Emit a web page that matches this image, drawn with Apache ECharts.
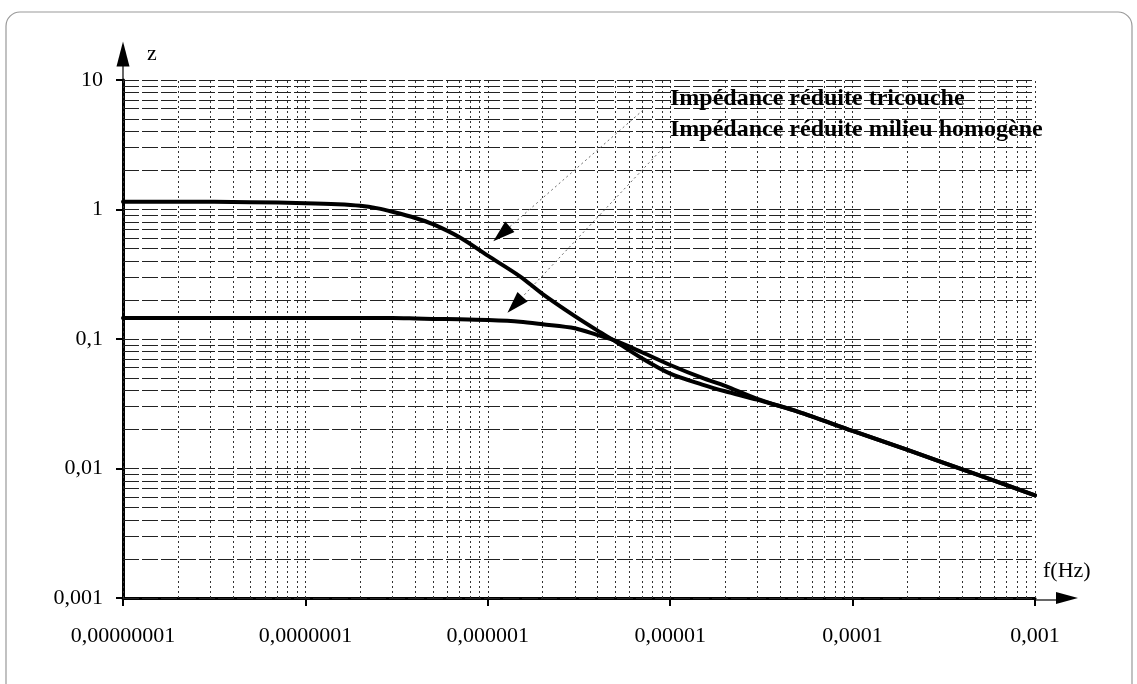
<!DOCTYPE html>
<html>
<head>
<meta charset="utf-8">
<script src="https://cdn.jsdelivr.net/npm/echarts@6/dist/echarts.min.js"></script>
<style>
  html, body { margin: 0; padding: 0; background: #fff; }
  #chart { width: 1137px; height: 684px; }
</style>
</head>
<body>
<div id="chart"></div>
<script>
// Frequencies (Hz) at which both impedance curves are sampled
const frequencies = [1e-8, 2e-8, 5e-8, 1e-7, 1.5e-7, 2e-7, 2.5e-7, 3e-7, 4e-7, 5e-7, 7e-7,
  1e-6, 1.5e-6, 2e-6, 3e-6, 4e-6, 5e-6, 7e-6, 1e-5, 1.5e-5, 2e-5, 3e-5, 5e-5, 1e-4, 2e-4, 5e-4, 1e-3];

// Reduced impedance, three-layer ground
const zTricouche = [1.15, 1.15, 1.14, 1.12, 1.10, 1.07, 1.02, 0.96, 0.86, 0.77, 0.61,
  0.44, 0.305, 0.222, 0.150, 0.116, 0.096, 0.071, 0.054, 0.0445, 0.0395, 0.034, 0.0275, 0.0195, 0.0139, 0.0088, 0.0062];

// Reduced impedance, homogeneous ground
const zHomogene = [0.145, 0.145, 0.145, 0.145, 0.145, 0.145, 0.145, 0.145, 0.144, 0.143, 0.142,
  0.140, 0.136, 0.130, 0.121, 0.107, 0.097, 0.079, 0.063, 0.050, 0.0435, 0.0345, 0.0275, 0.0195, 0.0139, 0.0088, 0.0062];

const xTickValues = [1e-8, 1e-7, 1e-6, 1e-5, 1e-4, 1e-3];
const xTickLabels = ['0,00000001', '0,0000001', '0,000001', '0,00001', '0,0001', '0,001'];
const yTickValues = [0.001, 0.01, 0.1, 1, 10];
const yTickLabels = ['0,001', '0,01', '0,1', '1', '10'];

const seriesNames = ['Impédance réduite tricouche', 'Impédance réduite milieu homogène'];
const axisNames = ['f(Hz)', 'z'];

// Multiples drawn as grid lines inside every decade
const gridMultiples = [1, 2, 3, 4, 5, 6, 7, 8, 9];

// Leader lines from the captions to the curves: [start, arrow] as (f, z)
const leaderTricouche = [[7.1e-6, 5.86], [1.19e-6, 0.647]];
const leaderHomogene = [[9.14e-6, 2.99], [1.41e-6, 0.184]];

const FONT = '"Liberation Serif", "Times New Roman", serif';

function labelFor(values, labels) {
  return function (v) {
    const i = values.findIndex(t => Math.abs(Math.log10(t) - Math.log10(v)) < 1e-6);
    return i >= 0 ? labels[i] : '';
  };
}

function gridValues(decades) {
  const out = [];
  for (let d = 0; d < decades.length - 1; d++) {
    for (const k of gridMultiples) out.push(decades[d] * k);
  }
  out.push(decades[decades.length - 1]);
  return out;
}

const xMin = xTickValues[0], xMax = xTickValues[xTickValues.length - 1];
const yMin = yTickValues[0], yMax = yTickValues[yTickValues.length - 1];

const toPairs = ys => frequencies.map((f, i) => [f, ys[i]]);

const chart = echarts.init(document.getElementById('chart'));

const curveStyle = { color: '#000', width: 4, cap: 'round', join: 'round' };

const option = {
  animation: false,
  backgroundColor: '#fff',
  grid: { left: 123, right: 102, top: 80, bottom: 86 },
  xAxis: {
    type: 'log', logBase: 10, min: xMin, max: xMax,
    axisLine: {
      show: true, onZero: false,
      lineStyle: { color: '#000', width: 3 },
      symbol: ['none', 'triangle'], symbolSize: [12, 22], symbolOffset: [0, 32]
    },
    axisTick: { show: true, length: 8, lineStyle: { color: '#000', width: 2 } },
    axisLabel: { formatter: labelFor(xTickValues, xTickLabels), margin: 27, color: '#000', fontFamily: FONT, fontSize: 22 },
    splitLine: { show: false }
  },
  yAxis: {
    type: 'log', logBase: 10, min: yMin, max: yMax,
    axisLine: {
      show: true, onZero: false,
      lineStyle: { color: '#000', width: 3 },
      symbol: ['none', 'triangle'], symbolSize: [13, 25], symbolOffset: [0, 26]
    },
    axisTick: { show: true, length: 7, lineStyle: { color: '#000', width: 2 } },
    axisLabel: { formatter: labelFor(yTickValues, yTickLabels), margin: 20, color: '#000', fontFamily: FONT, fontSize: 22 },
    splitLine: { show: false }
  },
  series: [
    {
      // vertical grid lines
      type: 'line', data: [], silent: true, z: 1,
      markLine: {
        silent: true, symbol: 'none', label: { show: false }, animation: false,
        lineStyle: { color: '#333', width: 1, type: [2, 3] },
        data: gridValues(xTickValues).map(v => [{ coord: [v, yMin] }, { coord: [v, yMax] }])
      }
    },
    {
      // horizontal grid lines
      type: 'line', data: [], silent: true, z: 1,
      markLine: {
        silent: true, symbol: 'none', label: { show: false }, animation: false,
        lineStyle: { color: '#222', width: 1, type: [16, 3] },
        data: gridValues(yTickValues).map(v => [{ coord: [xMin, v] }, { coord: [xMax, v] }])
      }
    },
    {
      name: seriesNames[0], type: 'line', z: 5,
      data: toPairs(zTricouche), showSymbol: false, smooth: 0.3,
      lineStyle: curveStyle
    },
    {
      name: seriesNames[1], type: 'line', z: 5,
      data: toPairs(zHomogene), showSymbol: false, smooth: 0.3,
      lineStyle: curveStyle
    },
    {
      // caption leader lines (dotted)
      type: 'line', data: [], silent: true, z: 6,
      markLine: {
        silent: true, animation: false, label: { show: false }, symbol: 'none',
        lineStyle: { color: '#6a6a6a', width: 1, type: [2, 3] },
        data: [leaderTricouche, leaderHomogene].map(seg => [{ coord: seg[0] }, { coord: seg[1] }])
      }
    },
    {
      // arrowheads at the end of the leader lines
      type: 'line', data: [], silent: true, z: 7,
      markLine: {
        silent: true, animation: false, label: { show: false },
        symbol: ['none', 'triangle'],
        lineStyle: { color: '#000', width: 0.01, opacity: 1 },
        data: [leaderTricouche, leaderHomogene].map(seg => [
          { coord: seg[0], symbol: 'none' },
          { coord: seg[1], symbol: 'triangle', symbolSize: [14, 22] }
        ])
      }
    }
  ]
};

chart.setOption(option);

// Decorations placed from the grid's own pixel mapping
const origin = chart.convertToPixel({ gridIndex: 0 }, [xMin, yMin]);
const topEnd = chart.convertToPixel({ gridIndex: 0 }, [xMin, yMax]);
const rightEnd = chart.convertToPixel({ gridIndex: 0 }, [xMax, yMin]);

chart.setOption({
  graphic: [
    {
      type: 'rect', silent: true, z: 0,
      shape: { x: 6, y: 12, width: 1126, height: 700, r: 14 },
      style: { fill: 'none', stroke: '#999', lineWidth: 1.2 }
    },
    {
      type: 'line', silent: true, z: 10,
      shape: { x1: topEnd[0], y1: topEnd[1], x2: topEnd[0], y2: topEnd[1] - 14 },
      style: { stroke: '#000', lineWidth: 1.2 }
    },
    {
      type: 'line', silent: true, z: 10,
      shape: { x1: rightEnd[0], y1: rightEnd[1] + 2, x2: rightEnd[0] + 22, y2: rightEnd[1] + 2 },
      style: { stroke: '#000', lineWidth: 1.2 }
    },
    {
      type: 'text', silent: true, z: 10,
      style: { text: axisNames[1], x: origin[0] + 24, y: topEnd[1] - 26, font: '22px ' + FONT, fill: '#000', textAlign: 'left', textVerticalAlign: 'middle' }
    },
    {
      type: 'text', silent: true, z: 10,
      style: { text: axisNames[0], x: rightEnd[0] + 8, y: rightEnd[1] - 27, font: '22px ' + FONT, fill: '#000', textAlign: 'left', textVerticalAlign: 'middle' }
    },
    {
      type: 'text', silent: true, z: 10,
      style: { text: seriesNames[0], x: 670, y: 99, font: 'bold 24px ' + FONT, fill: '#000', textAlign: 'left', textVerticalAlign: 'middle' }
    },
    {
      type: 'text', silent: true, z: 10,
      style: { text: seriesNames[1], x: 670, y: 130, font: 'bold 24px ' + FONT, fill: '#000', textAlign: 'left', textVerticalAlign: 'middle' }
    }
  ]
});
</script>
</body>
</html>
